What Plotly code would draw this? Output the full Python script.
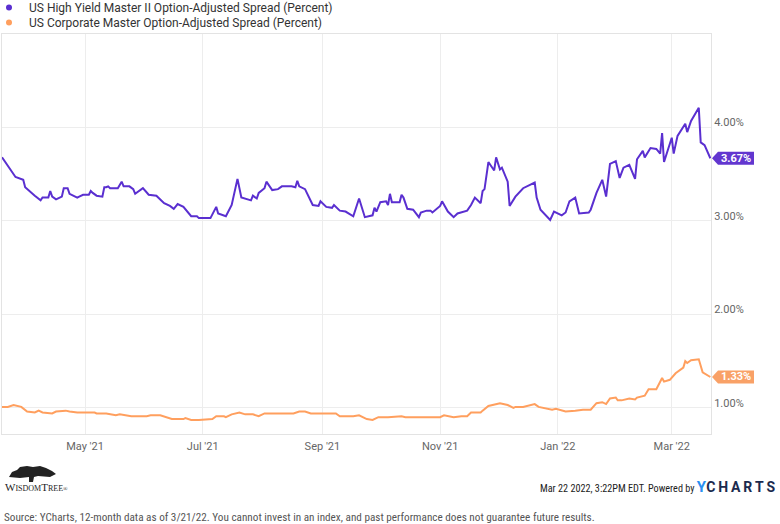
import plotly.graph_objects as go

hy_name = "US High Yield Master II Option-Adjusted Spread (Percent)"
ig_name = "US Corporate Master Option-Adjusted Spread (Percent)"

hy_dates = ["2021-03-19","2021-03-22","2021-03-24","2021-03-26","2021-03-30","2021-03-31","2021-04-05","2021-04-08","2021-04-09","2021-04-12","2021-04-13","2021-04-14","2021-04-16","2021-04-19","2021-04-20","2021-04-22","2021-04-23","2021-04-27","2021-04-28","2021-04-30","2021-05-03","2021-05-04","2021-05-05","2021-05-07","2021-05-10","2021-05-11","2021-05-12","2021-05-13","2021-05-14","2021-05-18","2021-05-20","2021-05-21","2021-05-24","2021-05-26","2021-05-27","2021-05-31","2021-06-03","2021-06-07","2021-06-09","2021-06-11","2021-06-14","2021-06-16","2021-06-18","2021-06-21","2021-06-25","2021-06-28","2021-06-29","2021-07-05","2021-07-06","2021-07-08","2021-07-09","2021-07-12","2021-07-13","2021-07-16","2021-07-19","2021-07-21","2021-07-26","2021-07-27","2021-07-29","2021-07-30","2021-08-02","2021-08-03","2021-08-06","2021-08-09","2021-08-11","2021-08-16","2021-08-18","2021-08-19","2021-08-20","2021-08-23","2021-08-25","2021-08-27","2021-08-30","2021-08-31","2021-09-03","2021-09-06","2021-09-07","2021-09-10","2021-09-13","2021-09-17","2021-09-20","2021-09-23","2021-09-27","2021-09-28","2021-09-29","2021-10-01","2021-10-04","2021-10-05","2021-10-06","2021-10-07","2021-10-11","2021-10-12","2021-10-13","2021-10-15","2021-10-18","2021-10-21","2021-10-22","2021-10-25","2021-10-27","2021-10-28","2021-11-01","2021-11-02","2021-11-05","2021-11-08","2021-11-10","2021-11-12","2021-11-15","2021-11-17","2021-11-19","2021-11-22","2021-11-23","2021-11-24","2021-11-26","2021-11-29","2021-11-30","2021-12-02","2021-12-03","2021-12-06","2021-12-07","2021-12-10","2021-12-13","2021-12-14","2021-12-20","2021-12-21","2021-12-23","2021-12-28","2021-12-30","2022-01-03","2022-01-05","2022-01-07","2022-01-10","2022-01-12","2022-01-17","2022-01-18","2022-01-21","2022-01-24","2022-01-26","2022-01-28","2022-01-31","2022-02-02","2022-02-04","2022-02-07","2022-02-10","2022-02-11","2022-02-14","2022-02-15","2022-02-18","2022-02-21","2022-02-23","2022-02-24","2022-02-25","2022-03-01","2022-03-02","2022-03-04","2022-03-08","2022-03-09","2022-03-11","2022-03-15","2022-03-16","2022-03-18","2022-03-21"]
hy_values = [3.68,3.59,3.52,3.47,3.44,3.36,3.27,3.22,3.25,3.25,3.32,3.26,3.23,3.26,3.35,3.35,3.29,3.25,3.26,3.28,3.28,3.32,3.30,3.27,3.26,3.36,3.36,3.37,3.35,3.35,3.42,3.37,3.37,3.34,3.29,3.35,3.28,3.27,3.23,3.19,3.16,3.13,3.18,3.15,3.05,3.05,3.03,3.03,3.07,3.15,3.08,3.06,3.05,3.17,3.45,3.25,3.22,3.27,3.24,3.30,3.35,3.42,3.33,3.34,3.37,3.37,3.36,3.43,3.37,3.34,3.25,3.17,3.16,3.21,3.15,3.14,3.17,3.11,3.10,3.05,3.24,3.04,3.06,3.14,3.10,3.20,3.21,3.17,3.29,3.20,3.20,3.28,3.25,3.13,3.12,3.04,3.09,3.11,3.11,3.09,3.16,3.21,3.10,3.04,3.08,3.09,3.11,3.17,3.25,3.19,3.32,3.34,3.63,3.54,3.68,3.55,3.57,3.42,3.16,3.26,3.32,3.35,3.41,3.25,3.12,3.01,3.10,3.06,3.09,3.21,3.25,3.08,3.09,3.12,3.30,3.44,3.26,3.61,3.64,3.46,3.57,3.60,3.45,3.66,3.75,3.68,3.78,3.77,3.72,3.94,3.63,3.89,3.72,3.91,4.04,3.95,4.07,4.21,3.84,3.81,3.67]

ig_dates = ["2021-03-19","2021-03-22","2021-03-25","2021-03-29","2021-04-01","2021-04-05","2021-04-07","2021-04-09","2021-04-14","2021-04-16","2021-04-21","2021-04-23","2021-04-27","2021-05-06","2021-05-07","2021-05-12","2021-05-17","2021-05-19","2021-05-25","2021-05-28","2021-06-02","2021-06-04","2021-06-09","2021-06-15","2021-06-21","2021-06-22","2021-06-25","2021-06-29","2021-07-06","2021-07-08","2021-07-12","2021-07-13","2021-07-16","2021-07-20","2021-07-23","2021-07-27","2021-07-30","2021-08-02","2021-08-09","2021-08-17","2021-08-20","2021-08-23","2021-08-26","2021-09-08","2021-09-10","2021-09-17","2021-09-20","2021-09-24","2021-09-27","2021-09-30","2021-10-05","2021-10-12","2021-10-14","2021-11-01","2021-11-03","2021-11-08","2021-11-12","2021-11-15","2021-11-17","2021-11-22","2021-11-23","2021-11-26","2021-12-02","2021-12-06","2021-12-09","2021-12-10","2021-12-14","2021-12-20","2021-12-22","2021-12-27","2021-12-29","2021-12-31","2022-01-05","2022-01-10","2022-01-14","2022-01-18","2022-01-19","2022-01-21","2022-01-24","2022-01-26","2022-01-28","2022-01-31","2022-02-01","2022-02-03","2022-02-07","2022-02-10","2022-02-11","2022-02-15","2022-02-17","2022-02-21","2022-02-24","2022-02-25","2022-02-28","2022-03-02","2022-03-03","2022-03-07","2022-03-08","2022-03-09","2022-03-11","2022-03-15","2022-03-17","2022-03-21"]
ig_values = [1.01,1.01,1.03,1.01,0.96,0.95,0.97,0.95,0.94,0.96,0.97,0.96,0.95,0.95,0.94,0.94,0.92,0.93,0.91,0.91,0.91,0.92,0.92,0.88,0.88,0.89,0.87,0.87,0.88,0.91,0.91,0.90,0.93,0.95,0.93,0.93,0.91,0.94,0.94,0.94,0.96,0.96,0.94,0.94,0.91,0.91,0.92,0.88,0.87,0.90,0.90,0.91,0.90,0.90,0.92,0.90,0.91,0.91,0.95,0.95,0.97,1.02,1.05,1.03,1.00,1.01,1.01,1.04,1.01,0.99,0.98,0.99,0.96,0.97,0.98,0.98,1.00,1.05,1.06,1.04,1.10,1.11,1.08,1.08,1.10,1.09,1.11,1.13,1.20,1.20,1.32,1.28,1.30,1.34,1.37,1.43,1.50,1.48,1.51,1.52,1.38,1.33]

y_ticks = [1, 2, 3, 4]
x_range = ["2021-03-19", "2022-03-21 08:00"]
y_range = [0.72, 5.0]

source_text = "Source: YCharts, 12-month data as of 3/21/22. You cannot invest in an index, and past performance does not guarantee future results."
stamp_text = "Mar 22 2022, 3:22PM EDT. Powered by "

HY_COLOR = "#5a2fd0"
IG_COLOR = "#ff9f5e"
HY_FLAG = "#6236cf"
IG_FLAG = "#f9a167"
GRID = "#ededed"
FONT = "Roboto"
NARROW = "Liberation Sans Narrow, Roboto Condensed, Roboto"

fig = go.Figure()
fig.add_trace(go.Scatter(x=hy_dates, y=hy_values, mode="lines", line=dict(color=HY_COLOR, width=2),
                         showlegend=False, hoverinfo="skip"))
fig.add_trace(go.Scatter(x=ig_dates, y=ig_values, mode="lines", line=dict(color=IG_COLOR, width=2),
                         showlegend=False, hoverinfo="skip"))
# legend entries (dots), one legend each so the rows can sit close together
fig.add_trace(go.Scatter(x=[None], y=[None], mode="markers", name=hy_name, legend="legend",
                         marker=dict(color=HY_COLOR, size=6)))
fig.add_trace(go.Scatter(x=[None], y=[None], mode="markers", name=ig_name, legend="legend2",
                         marker=dict(color=IG_COLOR, size=6)))

# end-value flags, anchored at the right edge of the plot and at the last value
for v, c in [(hy_values[-1], HY_FLAG), (ig_values[-1], IG_FLAG)]:
    fig.add_shape(type="path", xref="paper", yref="y", xsizemode="pixel", ysizemode="pixel",
                  xanchor=1, yanchor=v, path="M 1,0 L 7,-6.5 L 43,-6.5 L 43,6.5 L 7,6.5 Z",
                  fillcolor=c, line=dict(width=0), layer="above")
    fig.add_annotation(x=1, y=v, xref="paper", yref="y", text="<b>%.2f%%</b>" % v, showarrow=False,
                       xanchor="center", yanchor="middle", xshift=25, yshift=0,
                       font=dict(family=FONT, size=11, color="white"))

# footer texts
fig.add_annotation(xref="paper", yref="paper", x=0, y=0, yshift=-83, text=source_text, showarrow=False,
                   xanchor="left", yanchor="middle", font=dict(family=NARROW, size=11.2, color="#555555"))
fig.add_annotation(xref="paper", yref="paper", x=1, y=0, yshift=-53, xshift=67, showarrow=False,
                   xanchor="right", yanchor="middle",
                   text=stamp_text + "<span style='font-family:Roboto;font-size:15px;color:#2a8ff0'><b>Y</b></span>"
                        "<span style='font-family:Roboto;font-size:14px;color:#1b2a4e'><b>C\u2009H\u2009A\u2009R\u2009T\u2009S</b></span>",
                   font=dict(family=NARROW, size=10.2, color="#222222"))
fig.add_annotation(xref="paper", yref="paper", x=0, y=0, yshift=-53, xshift=1, showarrow=False,
                   xanchor="left", yanchor="middle",
                   text="W<span style='font-size:8px'>ISDOM</span>T<span style='font-size:8px'>REE</span><span style='font-size:6px'>\u00ae</span>",
                   font=dict(family="Liberation Serif", size=11, color="#222222"))

# simple tree mark for the logo (paper coords: px = 2 + 709*x, py = 434 - 400*y)
def px(x):
    return (x - 2) / 709.0
def py(y):
    return (434 - y) / 400.0
tree = [(9, 477), (12, 472), (17, 470), (20, 467), (27, 466), (33, 467), (40, 466), (46, 468),
        (52, 471), (56, 474), (50, 477), (38, 476), (34, 477), (33, 482), (29, 482), (29, 477), (20, 478)]
path = "M " + " L ".join("%.5f,%.5f" % (px(a), py(b)) for a, b in tree) + " Z"
fig.add_shape(type="path", xref="paper", yref="paper", path=path, fillcolor="#222222",
              line=dict(width=0), layer="above")

legend_common = dict(xref="paper", yref="paper", xanchor="left", yanchor="top", indentation=-13,
                     font=dict(family=FONT, size=12, color="#333333"), bgcolor="rgba(0,0,0,0)")

fig.update_layout(
    width=780, height=524,
    margin=dict(l=2, r=69, t=34, b=90, autoexpand=False),
    paper_bgcolor="white", plot_bgcolor="white",
    font=dict(family=FONT, size=11, color="#666666"),
    showlegend=True,
    legend=dict(x=0, y=1.1025, **legend_common),
    legend2=dict(x=0, y=1.065, **legend_common),
    xaxis=dict(type="date", range=x_range, tick0="2021-05-01", dtick="M2", tickformat="%b '%y",
               showgrid=True, gridcolor=GRID, gridwidth=1, showline=True, linecolor="#e3e3e3", mirror=True,
               ticks="", tickfont=dict(family=FONT, size=11, color="#666666"), zeroline=False,
               ticklabelstandoff=2),
    yaxis=dict(range=y_range, tickvals=y_ticks, ticktext=["%.2f%%" % t for t in y_ticks], side="right",
               showgrid=True, gridcolor=GRID, gridwidth=1, showline=True, linecolor="#e3e3e3", mirror=True,
               ticks="", tickfont=dict(family=FONT, size=11, color="#666666"), zeroline=False,
               ticklabelshift=-5),
)

fig.write_html("out.html")
